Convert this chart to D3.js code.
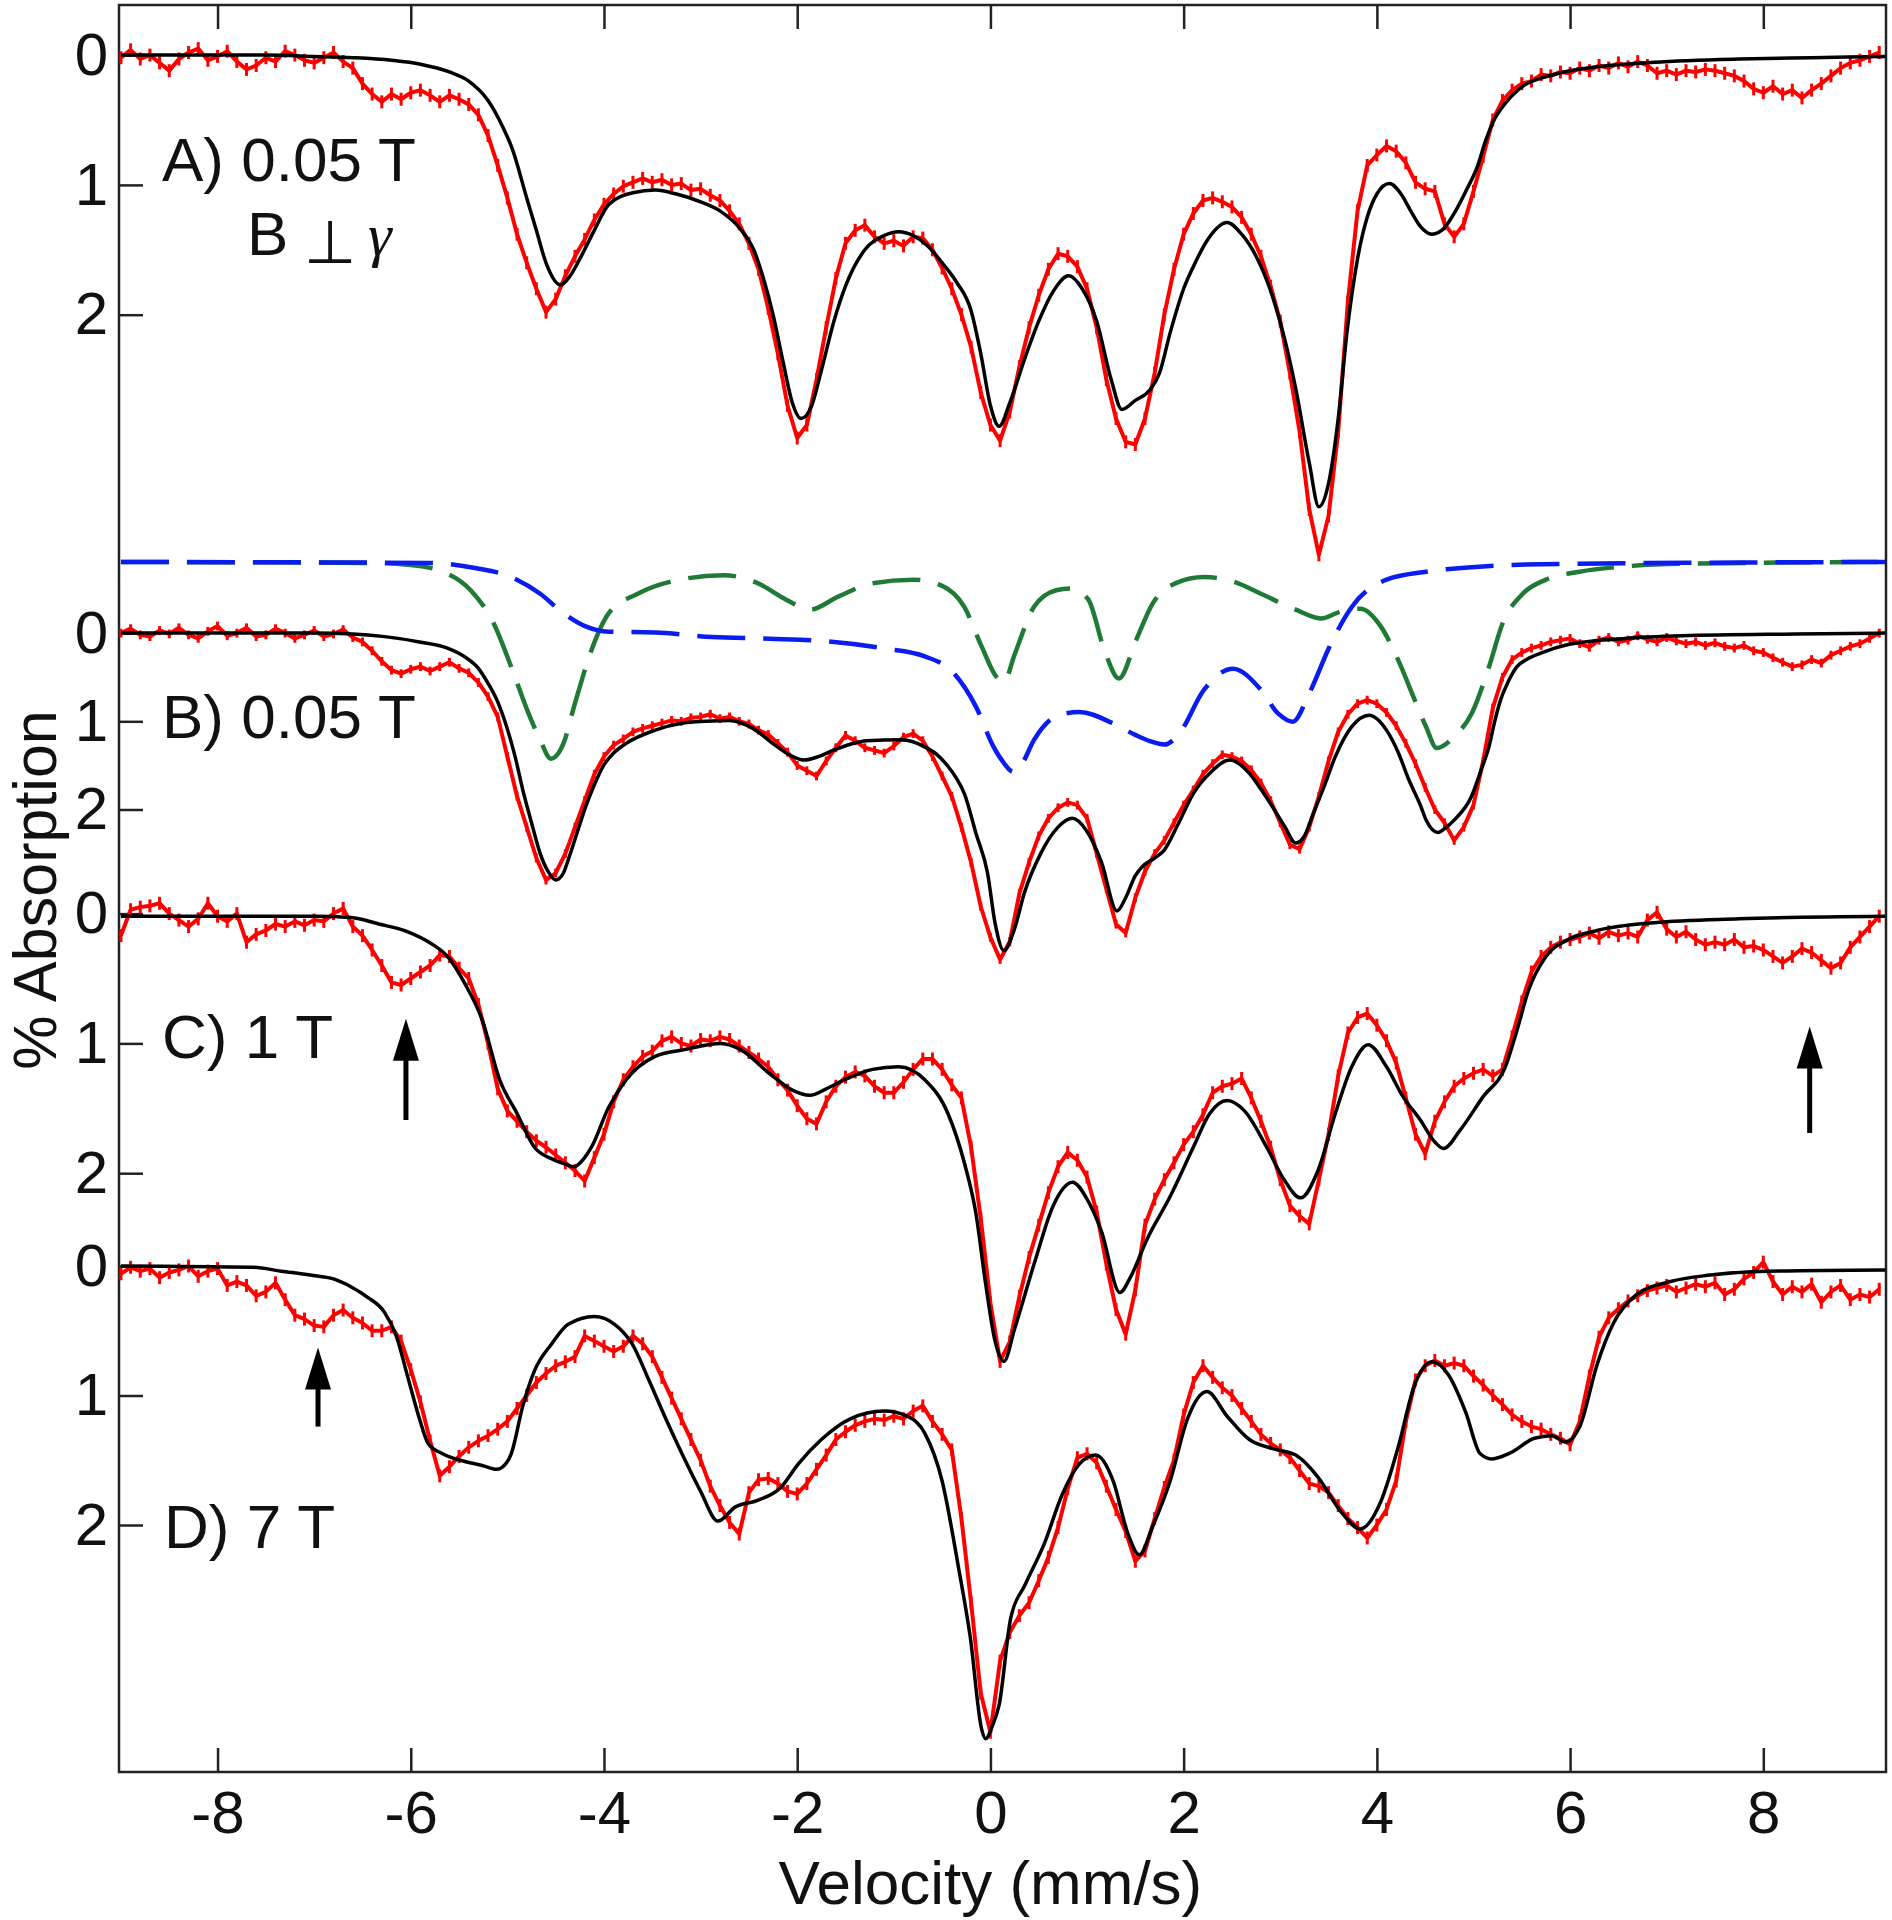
<!DOCTYPE html>
<html><head><meta charset="utf-8">
<script src="https://cdn.jsdelivr.net/npm/d3@7"></script>
<style>
body{margin:0;background:#fff}
svg{display:block}
text{font-family:Arial,"Liberation Sans",sans-serif}
</style>
</head><body>
<svg id="chart" width="1892" height="1920"></svg>
<script>
// ---------------- DATA ----------------
// measured spectra: velocity grid -9.0 ... 9.2 mm/s, 0.1 mm/s channels
const velocity = d3.range(-90, 93).map(i => i / 10);

const dataA = [0.02,-0.04,0.03,0.0,0.06,0.12,0.03,-0.02,-0.05,0.04, 0.01,-0.03,0.05,0.11,0.08,0.02,0.05,-0.03,0.0,0.04, 0.06,0.02,-0.02,0.05,0.1,
 0.22,0.3,0.36,0.3,0.34,0.29,0.27,0.31,0.36,0.31,
 0.34,0.38,0.46,0.62,0.85,1.1,1.38,1.6,1.8,1.98,
 1.88,1.7,1.55,1.42,1.27,1.15,1.07,1.01,0.98,0.95,
 0.98,0.96,1.0,0.99,1.04,1.03,1.08,1.12,1.2,1.3,
 1.45,1.65,1.95,2.3,2.7,2.95,2.85,2.5,2.1,1.72,
 1.45,1.35,1.31,1.4,1.45,1.43,1.47,1.4,1.41,1.5,
 1.64,1.8,2.0,2.25,2.6,2.85,2.97,2.75,2.4,2.1,
 1.85,1.65,1.53,1.55,1.63,1.8,2.1,2.5,2.8,2.98,
 3.0,2.8,2.45,2.0,1.65,1.38,1.22,1.12,1.1,1.13,
 1.17,1.25,1.38,1.55,1.78,2.05,2.45,2.9,3.5,3.85,
 3.55,2.9,1.9,1.2,0.85,0.77,0.7,0.74,0.83,0.98,
 1.03,1.05,1.3,1.4,1.3,1.05,0.78,0.5,0.35,0.27,
 0.22,0.2,0.15,0.16,0.13,0.14,0.1,0.12,0.08,0.1,
 0.06,0.09,0.05,0.08,0.14,0.12,0.15,0.12,0.13,0.11,
 0.12,0.14,0.16,0.2,0.26,0.29,0.24,0.3,0.27,0.33,
 0.27,0.22,0.16,0.1,0.06,0.04,0.01,-0.02];

const dataB = [0.0,-0.05,0.02,0.04,-0.03,0.01,-0.06,0.02,0.06,-0.02, -0.08,0.03,0.0,-0.06,0.04,0.02,-0.05,0.0,0.06,0.02, -0.03,0.04,0.01,-0.04,0.05,
 0.1,0.2,0.32,0.42,0.46,0.41,0.38,0.43,0.38,0.33,
 0.4,0.45,0.56,0.72,0.95,1.4,1.85,2.2,2.55,2.8,
 2.72,2.5,2.2,1.9,1.6,1.4,1.27,1.2,1.12,1.08,
 1.05,1.02,0.99,1.0,0.96,0.95,0.92,0.97,0.95,1.0,
 1.03,1.1,1.15,1.25,1.35,1.5,1.56,1.62,1.45,1.3,
 1.16,1.22,1.3,1.33,1.36,1.28,1.18,1.14,1.22,1.4,
 1.62,1.85,2.2,2.6,3.1,3.45,3.7,3.5,2.95,2.6,
 2.3,2.1,1.98,1.92,1.95,2.1,2.5,2.9,3.3,3.4,
 3.0,2.7,2.5,2.35,2.15,1.95,1.78,1.6,1.48,1.38,
 1.4,1.45,1.55,1.7,1.9,2.15,2.4,2.45,2.2,1.85,
 1.45,1.12,0.92,0.8,0.76,0.8,0.9,1.05,1.25,1.48,
 1.75,2.0,2.15,2.35,2.2,1.95,1.45,0.85,0.5,0.3,
 0.22,0.17,0.14,0.1,0.08,0.06,0.12,0.16,0.08,0.05,
 0.1,0.08,0.03,0.07,0.1,0.05,0.09,0.12,0.1,0.14,
 0.11,0.15,0.17,0.14,0.2,0.22,0.28,0.33,0.38,0.36,
 0.3,0.34,0.25,0.2,0.15,0.12,0.06,0.0];

const dataC = [0.17,-0.03,-0.05,-0.06,-0.08,0.0,0.05,0.1,0.04,-0.08, 0.02,0.06,0.0,0.22,0.16,0.13,0.08,0.1,0.06,0.09, 0.05,0.06,0.0,-0.04,0.1,
 0.17,0.28,0.4,0.53,0.55,0.5,0.45,0.4,0.32,0.33,
 0.42,0.5,0.7,1.0,1.35,1.52,1.6,1.68,1.75,1.8,
 1.86,1.92,1.98,2.06,1.88,1.7,1.45,1.28,1.18,1.1,
 1.06,0.98,0.95,1.0,1.02,0.97,0.98,0.95,0.97,1.02,
 1.07,1.12,1.18,1.28,1.36,1.48,1.58,1.62,1.45,1.33,
 1.26,1.22,1.25,1.33,1.38,1.38,1.3,1.2,1.12,1.12,
 1.2,1.32,1.42,1.8,2.35,3.0,3.45,3.3,2.95,2.65,
 2.4,2.15,1.95,1.84,1.9,2.03,2.3,2.7,3.05,3.24,
 2.9,2.4,2.2,2.05,1.92,1.78,1.68,1.55,1.38,1.33,
 1.31,1.27,1.42,1.6,1.8,2.05,2.25,2.33,2.39,2.05,
 1.7,1.25,0.92,0.8,0.77,0.86,0.98,1.15,1.42,1.7,
 1.85,1.6,1.45,1.33,1.27,1.23,1.2,1.25,1.2,0.95,
 0.68,0.45,0.33,0.26,0.22,0.2,0.18,0.15,0.19,0.14,
 0.17,0.15,0.18,0.05,-0.01,0.12,0.18,0.14,0.2,0.24,
 0.22,0.24,0.2,0.26,0.25,0.28,0.33,0.38,0.33,0.27,
 0.3,0.36,0.42,0.38,0.26,0.18,0.1,0.02];

const dataD = [0.06,0.01,0.04,0.02,0.09,0.05,0.03,0.0,0.08,0.04, 0.02,0.15,0.12,0.15,0.23,0.2,0.13,0.26,0.38,0.41, 0.46,0.47,0.38,0.34,0.4,
 0.44,0.5,0.5,0.47,0.58,0.8,1.05,1.35,1.62,1.55,
 1.47,1.4,1.35,1.31,1.26,1.2,1.1,1.0,0.9,0.83,
 0.77,0.74,0.7,0.54,0.58,0.62,0.66,0.62,0.54,0.6,
 0.7,0.86,1.02,1.18,1.34,1.5,1.7,1.85,1.98,2.07,
 1.75,1.65,1.64,1.68,1.74,1.76,1.68,1.57,1.46,1.34,
 1.28,1.23,1.2,1.18,1.19,1.16,1.18,1.12,1.08,1.2,
 1.3,1.42,1.95,2.6,3.3,3.6,3.05,2.83,2.7,2.6,
 2.43,2.25,2.02,1.72,1.48,1.45,1.52,1.7,1.88,2.05,
 2.28,2.2,1.95,1.71,1.5,1.15,0.9,0.77,0.86,0.94,
 1.0,1.1,1.2,1.3,1.37,1.42,1.48,1.58,1.68,1.7,
 1.75,1.85,1.95,2.02,2.1,2.0,1.88,1.66,1.2,0.88,
 0.77,0.73,0.77,0.75,0.77,0.85,0.92,1.0,1.07,1.15,
 1.2,1.24,1.26,1.3,1.33,1.38,1.2,0.85,0.55,0.4,
 0.33,0.27,0.23,0.19,0.17,0.15,0.2,0.17,0.14,0.16,
 0.13,0.22,0.18,0.1,0.05,-0.03,0.12,0.22,0.16,0.2,
 0.14,0.28,0.2,0.15,0.26,0.22,0.24,0.18];

// fits: [velocity, % absorption]
const fitA = [[-9.0,0],[-7.5,0.0],[-7.0,0.01],[-6.6,0.02],[-6.2,0.04],[-5.9,0.07],[-5.6,0.13],[-5.4,0.2],[-5.2,0.35],[-5.05,0.55],[-4.95,0.72],[-4.8,1.1],[-4.7,1.35],[-4.6,1.6],[-4.45,1.77],[-4.35,1.7],[-4.25,1.57],[-4.1,1.35],[-3.95,1.15],[-3.7,1.06],[-3.47,1.04],[-3.25,1.07],[-3.0,1.13],[-2.8,1.2],[-2.6,1.33],[-2.45,1.5],[-2.35,1.72],[-2.25,2.0],[-2.15,2.35],[-2.05,2.68],[-1.96,2.8],[-1.85,2.7],[-1.75,2.43],[-1.62,2.05],[-1.5,1.78],[-1.3,1.5],[-1.1,1.39],[-0.95,1.36],[-0.8,1.39],[-0.65,1.47],[-0.5,1.6],[-0.35,1.75],[-0.2,1.97],[-0.1,2.3],[0.0,2.7],[0.09,2.86],[0.2,2.68],[0.35,2.35],[0.5,2.05],[0.65,1.82],[0.81,1.7],[0.95,1.8],[1.1,2.05],[1.25,2.5],[1.36,2.73],[1.5,2.66],[1.65,2.58],[1.75,2.45],[1.86,2.14],[2.0,1.8],[2.1,1.63],[2.25,1.42],[2.45,1.29],[2.6,1.38],[2.75,1.55],[2.92,1.86],[3.05,2.2],[3.16,2.57],[3.3,3.14],[3.4,3.48],[3.5,3.3],[3.6,2.8],[3.69,2.14],[3.8,1.57],[3.9,1.25],[4.0,1.07],[4.13,0.99],[4.25,1.07],[4.35,1.2],[4.45,1.32],[4.57,1.38],[4.7,1.33],[4.8,1.22],[4.92,1.05],[5.04,0.86],[5.13,0.65],[5.22,0.49],[5.3,0.4],[5.39,0.32],[5.55,0.22],[5.69,0.18],[6.0,0.12],[6.28,0.09],[6.87,0.055],[7.75,0.03],[8.5,0.02],[9.26,0.01]];

const fitB = [[-9,0],[-7,0],[-6.6,0.01],[-6.27,0.04],[-5.91,0.1],[-5.62,0.17],[-5.44,0.27],[-5.3,0.4],[-5.2,0.57],[-5.1,0.78],[-5.02,1.02],[-4.92,1.4],[-4.84,1.78],[-4.75,2.15],[-4.66,2.5],[-4.58,2.7],[-4.5,2.8],[-4.42,2.72],[-4.37,2.57],[-4.28,2.27],[-4.19,1.97],[-4.1,1.72],[-4.01,1.51],[-3.9,1.36],[-3.77,1.25],[-3.47,1.1],[-3.18,1.02],[-2.95,1.0],[-2.7,0.99],[-2.46,1.08],[-2.23,1.27],[-2.08,1.38],[-1.93,1.44],[-1.78,1.4],[-1.63,1.33],[-1.45,1.26],[-1.28,1.22],[-0.92,1.21],[-0.68,1.29],[-0.55,1.38],[-0.44,1.51],[-0.35,1.65],[-0.27,1.82],[-0.15,2.27],[-0.03,2.72],[0.05,3.3],[0.14,3.6],[0.25,3.35],[0.35,2.95],[0.52,2.5],[0.7,2.2],[0.85,2.1],[1.0,2.25],[1.15,2.6],[1.31,3.15],[1.4,3.0],[1.5,2.75],[1.57,2.65],[1.7,2.55],[1.8,2.46],[1.95,2.15],[2.1,1.82],[2.27,1.59],[2.48,1.44],[2.68,1.59],[2.8,1.77],[2.92,1.97],[3.05,2.2],[3.16,2.38],[3.25,2.3],[3.33,2.08],[3.45,1.75],[3.57,1.4],[3.74,1.06],[3.92,0.93],[4.1,1.1],[4.22,1.35],[4.33,1.66],[4.45,1.95],[4.51,2.12],[4.63,2.26],[4.72,2.2],[4.8,2.12],[4.98,1.85],[5.08,1.55],[5.16,1.29],[5.22,1.0],[5.28,0.76],[5.36,0.55],[5.45,0.38],[5.55,0.3],[5.69,0.23],[5.98,0.13],[6.57,0.06],[7.16,0.03],[8.34,0.01],[9.26,0]];

const componentBlue = [[-9,0],[-5.8,0.01],[-5.32,0.07],[-4.96,0.17],[-4.66,0.36],[-4.42,0.58],[-4.19,0.73],[-3.95,0.79],[-3.47,0.8],[-2.88,0.85],[-2.29,0.87],[-1.69,0.9],[-1.1,0.98],[-0.68,1.07],[-0.38,1.26],[-0.15,1.64],[0.03,2.09],[0.12,2.25],[0.24,2.38],[0.32,2.3],[0.45,2.02],[0.68,1.75],[0.92,1.7],[1.27,1.83],[1.5,1.96],[1.65,2.03],[1.8,2.07],[1.95,1.95],[2.21,1.45],[2.51,1.21],[2.8,1.45],[2.98,1.72],[3.13,1.81],[3.3,1.49],[3.51,0.96],[3.74,0.51],[4.1,0.2],[4.51,0.11],[5.1,0.05],[6.0,0.02],[9.26,0]];

const componentGreen = [[-9,0],[-6.45,0.01],[-6.03,0.03],[-5.67,0.11],[-5.38,0.32],[-5.14,0.7],[-4.96,1.19],[-4.78,1.72],[-4.66,2.02],[-4.55,2.23],[-4.42,2.06],[-4.31,1.64],[-4.13,1.0],[-3.95,0.58],[-3.65,0.36],[-3.3,0.22],[-2.76,0.15],[-2.41,0.24],[-2.11,0.43],[-1.87,0.54],[-1.57,0.39],[-1.22,0.24],[-0.8,0.2],[-0.5,0.27],[-0.27,0.51],[-0.09,0.96],[0.06,1.3],[0.14,1.36],[0.25,1.05],[0.45,0.51],[0.68,0.32],[0.83,0.3],[1.01,0.42],[1.18,1.0],[1.33,1.32],[1.51,0.88],[1.68,0.47],[1.92,0.24],[2.21,0.17],[2.51,0.22],[2.8,0.36],[3.16,0.54],[3.42,0.64],[3.63,0.56],[3.83,0.53],[4.04,0.73],[4.22,1.11],[4.39,1.56],[4.51,1.87],[4.62,2.11],[4.8,1.98],[4.98,1.72],[5.16,1.19],[5.3,0.7],[5.51,0.36],[5.75,0.2],[6.1,0.11],[6.57,0.05],[7.16,0.02],[9.26,0]];

const fitC = [[-9,0.02],[-7,0.02],[-6.62,0.03],[-6.33,0.08],[-6.03,0.14],[-5.79,0.23],[-5.62,0.33],[-5.44,0.54],[-5.26,0.82],[-5.08,1.28],[-4.9,1.54],[-4.72,1.8],[-4.54,1.89],[-4.4,1.93],[-4.31,1.95],[-4.2,1.88],[-4.13,1.8],[-3.95,1.49],[-3.77,1.28],[-3.47,1.1],[-3.18,1.05],[-2.79,1.0],[-2.58,1.05],[-2.29,1.23],[-2.05,1.36],[-1.87,1.4],[-1.7,1.35],[-1.51,1.28],[-1.22,1.2],[-0.95,1.18],[-0.68,1.28],[-0.44,1.54],[-0.27,1.92],[-0.15,2.31],[-0.05,2.85],[0.05,3.3],[0.14,3.45],[0.25,3.2],[0.46,2.68],[0.65,2.25],[0.85,2.07],[1.0,2.2],[1.15,2.45],[1.34,2.92],[1.45,2.8],[1.62,2.51],[1.86,2.18],[2.1,1.8],[2.27,1.54],[2.45,1.44],[2.63,1.52],[2.86,1.8],[3.04,2.05],[3.21,2.19],[3.39,1.98],[3.57,1.54],[3.74,1.18],[3.91,1.01],[4.1,1.18],[4.27,1.41],[4.45,1.59],[4.6,1.76],[4.69,1.81],[4.86,1.67],[5.1,1.41],[5.33,1.18],[5.45,0.9],[5.57,0.59],[5.75,0.33],[5.98,0.2],[6.28,0.13],[6.87,0.07],[7.75,0.04],[9.26,0.02]];

const fitD = [[-9,0],[-7.63,0.01],[-7.34,0.04],[-7.04,0.07],[-6.8,0.1],[-6.62,0.16],[-6.45,0.24],[-6.27,0.36],[-6.15,0.54],[-6.03,0.86],[-5.91,1.18],[-5.82,1.37],[-5.67,1.45],[-5.44,1.51],[-5.26,1.54],[-5.11,1.57],[-5.02,1.53],[-4.96,1.45],[-4.84,1.08],[-4.72,0.81],[-4.54,0.6],[-4.37,0.45],[-4.1,0.39],[-3.89,0.45],[-3.71,0.6],[-3.53,0.89],[-3.36,1.18],[-3.18,1.47],[-3.0,1.74],[-2.82,1.97],[-2.64,1.86],[-2.41,1.81],[-2.17,1.71],[-1.99,1.53],[-1.75,1.34],[-1.45,1.18],[-1.1,1.12],[-0.86,1.16],[-0.68,1.29],[-0.5,1.66],[-0.33,2.33],[-0.21,2.86],[-0.09,3.58],[-0.05,3.65],[0.02,3.55],[0.09,3.39],[0.21,2.72],[0.36,2.46],[0.56,2.14],[0.74,1.77],[0.92,1.53],[1.09,1.46],[1.27,1.66],[1.42,2.06],[1.54,2.23],[1.68,2.01],[1.86,1.66],[2.04,1.18],[2.24,0.97],[2.45,1.16],[2.68,1.34],[2.92,1.41],[3.16,1.46],[3.39,1.63],[3.63,1.9],[3.83,2.03],[4.04,1.82],[4.22,1.4],[4.39,0.92],[4.57,0.74],[4.74,0.84],[4.92,1.13],[5.07,1.45],[5.19,1.49],[5.39,1.44],[5.63,1.33],[5.81,1.31],[5.95,1.36],[6.1,1.24],[6.28,0.76],[6.45,0.44],[6.69,0.22],[7.04,0.12],[7.45,0.07],[8.04,0.04],[9.26,0.03]];

const xTicks = [-8,-6,-4,-2,0,2,4,6,8];
const yTicks = [0,1,2];
const errHalf = 0.05;
// arrows: panel, velocity, tail / tip (% absorption)
const arrows = [{panel:"C", v:-6.05, from:1.59, to:0.81},{panel:"C", v:8.48, from:1.69, to:0.87},{panel:"D", v:-6.96, from:1.24, to:0.63}];

// ---------------- LAYOUT ----------------
const svg = d3.select("#chart");
const L = 119, R = 1886, T = 5, B = 1772;
const x = d3.scaleLinear().domain([-9.02, 9.27]).range([L, R]);
const panelScale = (zero, unit) => d3.scaleLinear().domain([0, 1]).range([zero, zero + unit]);
const yA = panelScale(55.1, 129.8);
const yB = panelScale(633.1, 88.2);
const yComp = panelScale(562, 88.2);
const yC = panelScale(913.6, 129.8);
const yD = panelScale(1266, 129.5);
const scales = {A: yA, B: yB, C: yC, D: yD};

svg.append("rect").attr("x", L).attr("y", T).attr("width", R - L).attr("height", B - T)
  .attr("fill", "none").attr("stroke", "#222").attr("stroke-width", 2.5);

function styleAxis(g) {
  g.select(".domain").remove();
  g.selectAll(".tick line").attr("stroke", "#222").attr("stroke-width", 2.5);
  g.selectAll("text").attr("font-size", 60).attr("fill", "#111")
    .attr("font-family", 'Arial,"Liberation Sans",sans-serif');
}
svg.append("g").attr("transform", `translate(0,${B})`)
  .call(d3.axisBottom(x).tickValues(xTicks).tickSizeInner(-24).tickSizeOuter(0).tickPadding(18).tickFormat(d => String(d)))
  .call(styleAxis);
svg.append("g").attr("transform", `translate(0,${T})`)
  .call(d3.axisTop(x).tickValues(xTicks).tickSizeInner(-24).tickSizeOuter(0).tickFormat(() => ""))
  .call(styleAxis);
[yA, yB, yC, yD].forEach(s => {
  svg.append("g").attr("transform", `translate(${L},0)`)
    .call(d3.axisLeft(s).tickValues(yTicks).tickSizeInner(-24).tickSizeOuter(0).tickPadding(11).tickFormat(d => String(d)))
    .call(styleAxis);
});

// components (dashed)
const compLine = d3.line().x(d => x(d[0])).y(d => yComp(d[1])).curve(d3.curveMonotoneX);
svg.append("path").attr("d", compLine(componentGreen)).attr("fill", "none")
  .attr("stroke", "#1f7a35").attr("stroke-width", 4.5).attr("stroke-dasharray", "48,18");
svg.append("path").attr("d", compLine(componentBlue)).attr("fill", "none")
  .attr("stroke", "#0a1cf0").attr("stroke-width", 4.5).attr("stroke-dasharray", "48,18");

// measured data (red with error bars)
function drawData(vals, ys) {
  const pts = velocity.map((v, i) => [v, vals[i]]);
  const g = svg.append("g");
  g.append("path").attr("d", d3.line().x(d => x(d[0])).y(d => ys(d[1]))(pts))
    .attr("fill", "none").attr("stroke", "#ff0000").attr("stroke-width", 4).attr("stroke-linejoin", "round");
  g.selectAll("line.err").data(pts).join("line").attr("class", "err")
    .attr("x1", d => x(d[0])).attr("x2", d => x(d[0]))
    .attr("y1", d => ys(d[1] - errHalf)).attr("y2", d => ys(d[1] + errHalf))
    .attr("stroke", "#ff0000").attr("stroke-width", 3);
}
function drawFit(pts, ys) {
  svg.append("path").attr("d", d3.line().x(d => x(d[0])).y(d => ys(d[1])).curve(d3.curveMonotoneX)(pts))
    .attr("fill", "none").attr("stroke", "#000").attr("stroke-width", 3.5).attr("stroke-linejoin", "round");
}
drawData(dataA, yA); drawFit(fitA, yA);
drawData(dataB, yB); drawFit(fitB, yB);
drawData(dataC, yC); drawFit(fitC, yC);
drawData(dataD, yD); drawFit(fitD, yD);

// arrows
arrows.forEach(a => {
  const s = scales[a.panel];
  const xa = x(a.v), y0 = s(a.from), y1 = s(a.to);
  const head = 42, hw = 13;
  svg.append("line").attr("x1", xa).attr("x2", xa).attr("y1", y0).attr("y2", y1 + head - 2)
    .attr("stroke", "#000").attr("stroke-width", 5);
  svg.append("path").attr("d", `M${xa},${y1} L${xa - hw},${y1 + head} L${xa + hw},${y1 + head} Z`).attr("fill", "#000");
});

// labels
const lab = (t, px, py, fs) => svg.append("text").attr("x", px).attr("y", py).attr("font-size", fs || 62).attr("fill", "#111").text(t);
lab("A) 0.05 T", 162, 181);
const bg = svg.append("text").attr("y", 255).attr("font-size", 62).attr("fill", "#111");
bg.append("tspan").attr("x", 247).text("B");
bg.append("tspan").attr("x", 304).attr("y", 263).attr("font-size", 60)
  .attr("font-family", '"DejaVu Sans",sans-serif').text("\u22A5");
bg.append("tspan").attr("x", 368).attr("y", 255).attr("font-size", 60).attr("font-style", "italic")
  .attr("font-family", '"Liberation Serif","DejaVu Serif",serif').text("\u03B3");
lab("B) 0.05 T", 162, 738);
lab("C) 1 T", 162, 1058);
lab("D) 7 T", 164, 1548);

svg.append("text").attr("x", x(0)).attr("y", 1904).attr("text-anchor", "middle")
  .attr("font-size", 62).attr("fill", "#111").text("Velocity (mm/s)");
svg.append("text").attr("transform", "translate(56,890) rotate(-90)").attr("text-anchor", "middle")
  .attr("font-size", 61).attr("fill", "#111").text("% Absorption");
</script>
</body></html>
